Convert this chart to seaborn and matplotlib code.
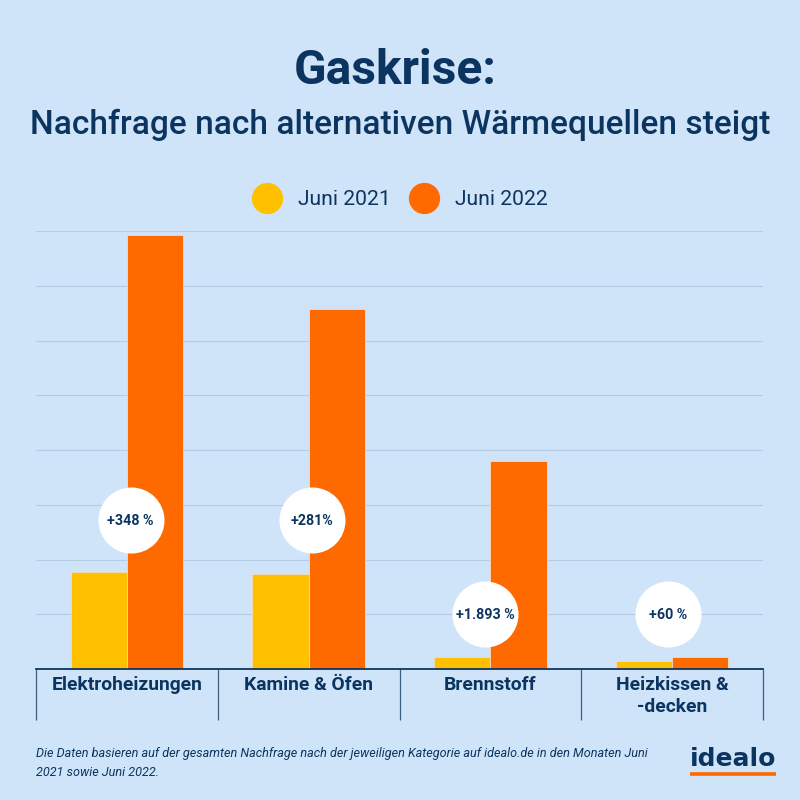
import pandas as pd
import seaborn as sns
import matplotlib
matplotlib.use("Agg")
import matplotlib.pyplot as plt
from matplotlib.lines import Line2D

# values in grid steps, the original has no y labels
categories = ["Elektroheizungen", "Kamine & Öfen", "Brennstoff", "Heizkissen &\n-decken"]
juni_2021 = [1.78, 1.73, 0.22, 0.15]
juni_2022 = [7.93, 6.57, 3.79, 0.22]
changes = ["+348 %", "+281%", "+1.893 %", "+60 %"]
series_names = ["Juni 2021", "Juni 2022"]

BG = "#d0e4f9"
NAVY = "#0b3560"
YELLOW = "#ffc000"
ORANGE = "#ff6a00"

sns.set_theme(style="white")
plt.rcParams["font.family"] = ["Roboto", "DejaVu Sans"]

df = pd.DataFrame({"category": categories * 2,
                   "year": [series_names[0]] * 4 + [series_names[1]] * 4,
                   "value": juni_2021 + juni_2022})

fig = plt.figure(figsize=(8, 8), dpi=100, facecolor=BG)
ax = fig.add_axes([36 / 800, 1 - 669 / 800, 727 / 800, 438 / 800], facecolor=BG)

sns.barplot(data=df, x="category", y="value", hue="year", hue_order=series_names,
            palette=[YELLOW, ORANGE], width=0.62, gap=0, saturation=1,
            edgecolor="#f3dcc0", linewidth=0.6, legend=False, zorder=3, ax=ax)

ax.set_xlim(-0.5, 3.5)
ax.set_ylim(0, 8)
ax.set_xlabel("")
ax.set_ylabel("")
ax.set_yticks(range(1, 9))
ax.tick_params(axis="y", length=0, labelleft=False)
ax.grid(axis="y", color="#b4cce5", linewidth=0.8, zorder=0)

for s in ["top", "left", "right"]:
    ax.spines[s].set_visible(False)
ax.spines["bottom"].set_color(NAVY)
ax.spines["bottom"].set_linewidth(1.3)
ax.spines["bottom"].set_zorder(5)

# separators below the axis are the major ticks, labels sit on minor ones
ax.set_xticks([-0.5, 0.5, 1.5, 2.5, 3.5])
ax.set_xticklabels([])
ax.tick_params(axis="x", which="major", bottom=True, length=37, width=0.9, color="#3d5f80")
ax.set_xticks([0, 1, 2, 3], minor=True)
ax.set_xticklabels(categories, minor=True, fontsize=13.9, fontweight="bold", color=NAVY,
                   linespacing=1.32, va="top")
ax.tick_params(axis="x", which="minor", bottom=False, length=0, pad=5)

# white bubbles with the change
for i, label in enumerate(changes):
    cx = i + 0.02 if i < 2 else i - 0.03 if i == 2 else i - 0.02
    cy = 2.72 if i < 2 else 1.0
    ax.scatter([cx], [cy], s=2260, color="white", linewidth=0, zorder=6, clip_on=False)
    ax.text(cx, cy - 0.02, label, ha="center", va="center", fontsize=10.3,
            fontweight="bold", color=NAVY, zorder=7)

handles = [Line2D([], [], linestyle="", marker="o", markersize=21.5, color=c) for c in [YELLOW, ORANGE]]
fig.legend(handles, series_names, loc="center", bbox_to_anchor=(399.5 / 800, 1 - 199.5 / 800),
           ncol=2, frameon=False, fontsize=15.2, labelcolor=NAVY, handletextpad=0.72,
           columnspacing=0.85, handlelength=1.5)

fig.text(395 / 800, 1 - 71 / 800, "Gaskrise:", ha="center", va="center", fontsize=34.5,
         fontweight="bold", color=NAVY)
fig.text(400.5 / 800, 1 - 125 / 800, "Nachfrage nach alternativen Wärmequellen steigt", ha="center",
         va="center", fontsize=24.1, fontweight="medium", color=NAVY)

fig.text(36 / 800, 1 - 754 / 800, "Die Daten basieren auf der gesamten Nachfrage nach der jeweiligen Kategorie auf idealo.de in den Monaten Juni",
         ha="left", va="center", fontsize=9.1, style="italic", color=NAVY)
fig.text(36 / 800, 1 - 772 / 800, "2021 sowie Juni 2022.", ha="left", va="center",
         fontsize=9.1, style="italic", color=NAVY)

# logo
fig.text(733 / 800, 1 - 759 / 800, "idealo", ha="center", va="center", fontsize=18,
         fontweight="bold", family="DejaVu Sans", color=NAVY)
fig.add_artist(Line2D([690 / 800, 776 / 800], [1 - 774 / 800] * 2, color=ORANGE, linewidth=2.6,
                      solid_capstyle="butt"))

fig.savefig("out.png", dpi=100, facecolor=BG)
